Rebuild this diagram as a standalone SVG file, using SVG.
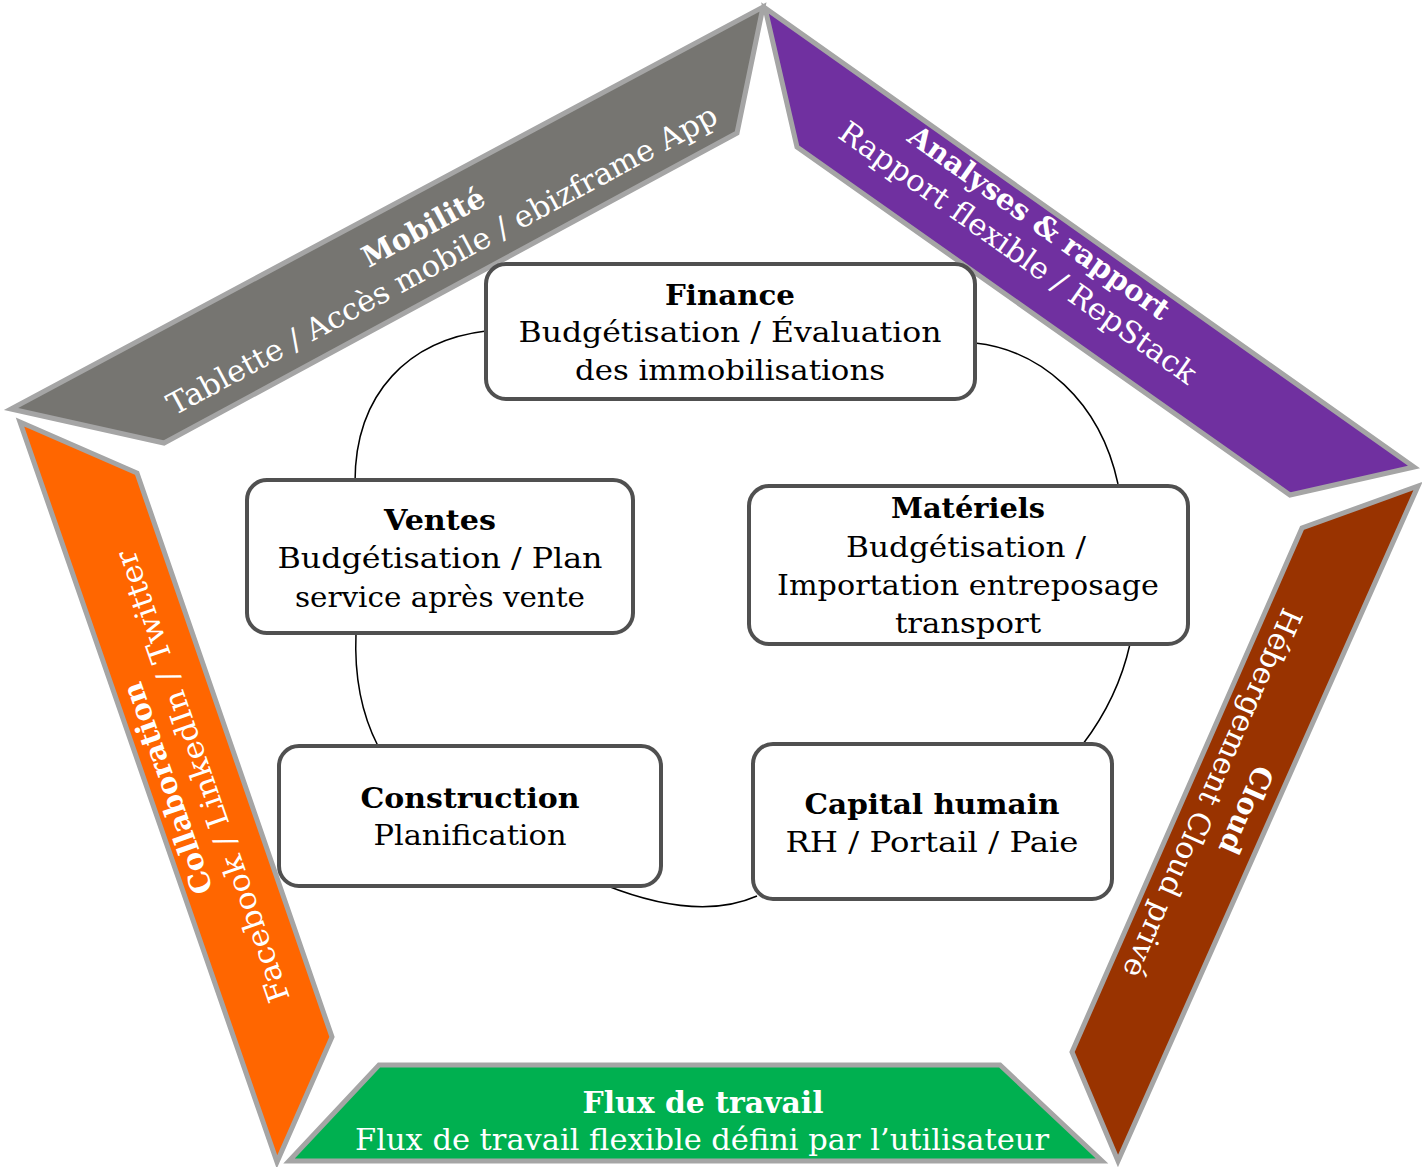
<svg xmlns="http://www.w3.org/2000/svg" width="1422" height="1167" viewBox="0 0 1422 1167">
<style>
.band{stroke:#A5A5A5;stroke-width:5;stroke-linejoin:miter}
.box{fill:#fff;stroke:#505050;stroke-width:4}
.arc{fill:none;stroke:#000;stroke-width:1.5}
text{font-family:"DejaVu Serif",serif;text-anchor:middle}
.bt{font-size:28px;font-weight:bold;fill:#000}
.bx{font-size:28px;fill:#000}
.wt{font-size:29px;font-weight:bold;fill:#fff}
.ws{font-size:30px;fill:#fff}
</style>
<rect width="1422" height="1167" fill="#fff"/>
<g id="mobilite">
<polygon class="band" fill="#767571" points="763,7 737,133 164,443 11,409"/>
<g transform="translate(447,269) rotate(-28.3)">
<text class="wt" x="-1" y="-38" textLength="135" lengthAdjust="spacingAndGlyphs">Mobilité</text>
<text class="ws" x="0" y="0" textLength="620" lengthAdjust="spacingAndGlyphs">Tablette / Accès mobile / ebizframe App</text>
</g>
</g>
<g id="analyses">
<polygon class="band" fill="#7030A0" points="765,8 797,147 1290,495 1414,467"/>
<g transform="translate(1012,261) rotate(35.3)">
<text class="wt" x="0" y="-37" textLength="313" lengthAdjust="spacingAndGlyphs">Analyses &amp; rapport</text>
<text class="ws" x="0" y="0" textLength="430" lengthAdjust="spacingAndGlyphs">Rapport flexible / RepStack</text>
</g>
</g>
<g id="collaboration">
<polygon class="band" fill="#FF6600" points="20,422 137,473 332,1037 277,1162"/>
<g transform="translate(212,773) rotate(-109.1)">
<text class="wt" x="0" y="-37" textLength="222" lengthAdjust="spacingAndGlyphs">Collaboration</text>
<text class="ws" x="0" y="0" textLength="476" lengthAdjust="spacingAndGlyphs">Facebook / LinkedIn / Twitter</text>
</g>
</g>
<g id="cloud">
<polygon class="band" fill="#993300" points="1418,486 1302,528 1072,1052 1118,1161"/>
<g transform="translate(1203,789) rotate(113.8)">
<text class="wt" x="2" y="-38" textLength="93" lengthAdjust="spacingAndGlyphs">Cloud</text>
<text class="ws" x="0" y="0" textLength="400" lengthAdjust="spacingAndGlyphs">Hébergement Cloud privé</text>
</g>
</g>
<g id="flux">
<polygon class="band" fill="#00B050" points="379,1065 1000,1065 1102,1161 289,1161"/>
<text class="wt" x="703" y="1113" textLength="241" lengthAdjust="spacingAndGlyphs">Flux de travail</text>
<text class="ws" x="702" y="1150" textLength="694" lengthAdjust="spacingAndGlyphs">Flux de travail flexible défini par l’utilisateur</text>
</g>
<g id="connectors">
<path class="arc" d="M486,331 C410,340 355,392 355,482"/>
<path class="arc" d="M975,343 C1040,350 1100,400 1118,484"/>
<path class="arc" d="M356,633 C354,680 362,715 378,746"/>
<path class="arc" d="M1130,644 C1122,680 1105,715 1083,744"/>
<path class="arc" d="M605,885 Q698,922 757,896"/>
</g>
<g id="finance">
<rect class="box" x="486" y="264" width="489" height="135" rx="20"/>
<text class="bt" x="730" y="305" textLength="130" lengthAdjust="spacingAndGlyphs">Finance</text>
<text class="bx" x="730" y="342" textLength="423" lengthAdjust="spacingAndGlyphs">Budgétisation / Évaluation</text>
<text class="bx" x="730" y="380" textLength="310" lengthAdjust="spacingAndGlyphs">des immobilisations</text>
</g>
<g id="ventes">
<rect class="box" x="247" y="480" width="386" height="153" rx="20"/>
<text class="bt" x="440" y="530" textLength="112" lengthAdjust="spacingAndGlyphs">Ventes</text>
<text class="bx" x="440" y="568" textLength="325" lengthAdjust="spacingAndGlyphs">Budgétisation / Plan</text>
<text class="bx" x="440" y="607" textLength="290" lengthAdjust="spacingAndGlyphs">service après vente</text>
</g>
<g id="materiels">
<rect class="box" x="749" y="486" width="439" height="158" rx="20"/>
<text class="bt" x="968" y="518" textLength="154" lengthAdjust="spacingAndGlyphs">Matériels</text>
<text class="bx" x="966" y="557" textLength="240" lengthAdjust="spacingAndGlyphs">Budgétisation /</text>
<text class="bx" x="968" y="595" textLength="382" lengthAdjust="spacingAndGlyphs">Importation entreposage</text>
<text class="bx" x="968" y="633" textLength="146" lengthAdjust="spacingAndGlyphs">transport</text>
</g>
<g id="construction">
<rect class="box" x="279" y="746" width="382" height="140" rx="20"/>
<text class="bt" x="470" y="808" textLength="219" lengthAdjust="spacingAndGlyphs">Construction</text>
<text class="bx" x="470" y="845" textLength="193" lengthAdjust="spacingAndGlyphs">Planification</text>
</g>
<g id="capital">
<rect class="box" x="753" y="744" width="359" height="155" rx="20"/>
<text class="bt" x="932" y="814" textLength="255" lengthAdjust="spacingAndGlyphs">Capital humain</text>
<text class="bx" x="932" y="852" textLength="293" lengthAdjust="spacingAndGlyphs">RH / Portail / Paie</text>
</g>
</svg>
